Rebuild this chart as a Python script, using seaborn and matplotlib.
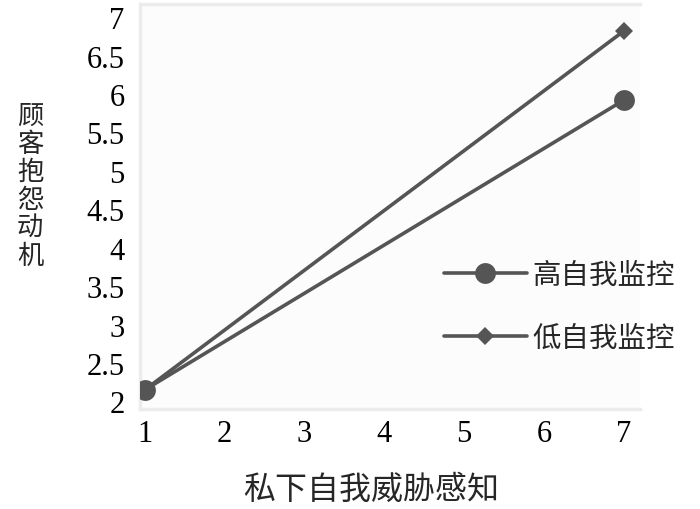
import pandas as pd
import matplotlib.pyplot as plt
import seaborn as sns

# 数据：私下自我威胁感知 (1 与 7) 下的顾客抱怨动机
x_vals = [1, 7]
high_monitor = [2.15, 5.92]   # 高自我监控
low_monitor = [2.15, 6.82]    # 低自我监控
groups = ['高自我监控', '低自我监控']
x_ticks = [1, 2, 3, 4, 5, 6, 7]
y_ticks = [2, 2.5, 3, 3.5, 4, 4.5, 5, 5.5, 6, 6.5, 7]
y_tick_labels = ['2', '2.5', '3', '3.5', '4', '4.5', '5', '5.5', '6', '6.5', '7']

df = pd.DataFrame({
    'x': x_vals * 2,
    'y': high_monitor + low_monitor,
    'grupo': [groups[0]] * 2 + [groups[1]] * 2,
})

sns.set_theme(style="white")
plt.rcParams['font.family'] = ['Liberation Serif', 'Noto Sans CJK SC', 'DejaVu Sans']

fig = plt.figure(figsize=(7, 5.1), dpi=100)
ax = fig.add_axes([0.2, 0.196, 0.714, 0.794])
ax.set_facecolor('#fcfcfc')

cor = '#555555'
marcadores = {'高自我监控': ('o', 15), '低自我监控': ('D', 9.5)}
for g in groups:
    m, s = marcadores[g]
    sns.lineplot(data=df[df['grupo'] == g], x='x', y='y', ax=ax, color=cor,
                 linewidth=2.6, marker=m, markersize=s, markeredgewidth=0,
                 label=g, zorder=3)

ax.set_xlim(0.94, 7.2)
ax.set_ylim(1.9, 7.17)
ax.set_xticks(x_ticks)
ax.set_yticks(y_ticks)
ax.set_yticklabels(y_tick_labels)
ax.tick_params(axis='both', length=0, labelsize=22, colors='black')
ax.tick_params(axis='y', pad=11)
ax.tick_params(axis='x', pad=7)
ax.set_xlabel('')
ax.set_ylabel('')

for lado in ['left', 'bottom', 'top']:
    ax.spines[lado].set_color('#ececec')
    ax.spines[lado].set_linewidth(2.5)
ax.spines['right'].set_visible(False)

# rótulo vertical empilhado
fig.text(0.043, 0.635, '顾\n客\n抱\n怨\n动\n机', ha='center', va='center',
         fontsize=19, linespacing=1.05, family=['Noto Sans CJK SC'])
fig.text(0.53, 0.04, '私下自我威胁感知', ha='center', va='center',
         fontsize=23, family=['Noto Sans CJK SC'])

leg = ax.legend(loc='center left', bbox_to_anchor=(0.618, 0.397),
                bbox_transform=fig.transFigure, frameon=False,
                handlelength=2.9, handletextpad=0.2, labelspacing=1.15,
                borderaxespad=0.0,
                prop={'family': ['Noto Sans CJK SC'], 'size': 20.5})

plt.savefig('out.png', dpi=100)
